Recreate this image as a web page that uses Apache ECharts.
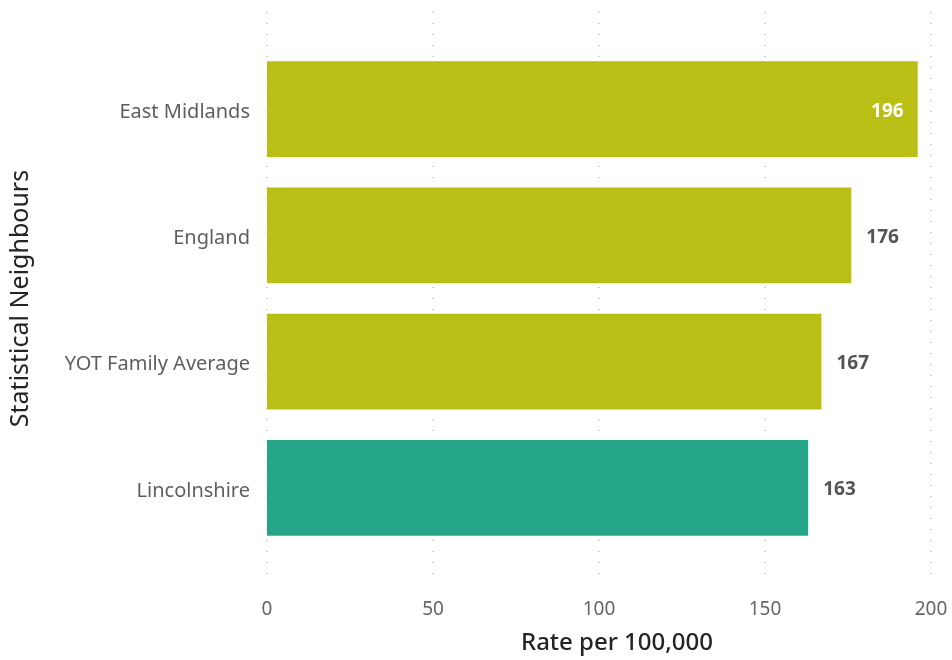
<!DOCTYPE html>
<html lang="en">
<head>
  <meta charset="UTF-8">
  <title>Statistical Neighbours - Rate per 100,000</title>
  <style>
    body { margin: 0; background: #fff; }
    #chart { width: 952px; height: 660px; }
  </style>
  <script src="https://cdn.jsdelivr.net/npm/echarts@6/dist/echarts.min.js"></script>
</head>
<body>
  <div id="chart"></div>
  <script>
    // data
    var categories = ['East Midlands', 'England', 'YOT Family Average', 'Lincolnshire'];
    var rates = [196, 176, 167, 163];
    var xTicks = [0, 50, 100, 150, 200];
    var highlight = 'Lincolnshire';

    var font = '"Noto Sans", "Open Sans", sans-serif';

    var barData = rates.map(function (v, i) {
      var item = { value: v };
      if (categories[i] === highlight) {
        item.itemStyle = { color: '#26A688' };
      }
      // the longest bar carries its label inside, as in the original
      if (v === Math.max.apply(null, rates)) {
        item.label = { position: 'insideRight', color: '#ffffff', distance: 14 };
      }
      return item;
    });

    var chart = echarts.init(document.getElementById('chart'));
    chart.setOption({
      animation: false,
      grid: [
        // bars
        { left: 267, right: 21, top: 46, height: 505 },
        // dotted grid lines and x axis
        { left: 267, right: 21, top: 12, bottom: 70 }
      ],
      xAxis: [
        {
          gridIndex: 0, type: 'value', min: xTicks[0], max: xTicks[xTicks.length - 1], interval: 50,
          axisLine: { show: false }, axisTick: { show: false }, axisLabel: { show: false },
          splitLine: { show: false }
        },
        {
          gridIndex: 1, type: 'value', min: xTicks[0], max: xTicks[xTicks.length - 1], interval: 50,
          axisLine: { show: false }, axisTick: { show: false },
          axisLabel: { color: '#666666', fontSize: 19, fontFamily: font, margin: 19 },
          splitLine: { show: true, lineStyle: { color: '#c0c0c0', type: [1, 10], width: 1.5 } },
          name: 'Rate per 100,000', nameLocation: 'middle', nameGap: 50,
          nameTextStyle: { color: '#252423', fontSize: 24, fontWeight: 500, fontFamily: font, padding: [0, 0, 0, 36] }
        }
      ],
      yAxis: [
        {
          gridIndex: 0, type: 'category', data: categories, inverse: true,
          axisLine: { show: false }, axisTick: { show: false },
          axisLabel: {
            margin: 17,
            formatter: function (v) { return '{c|' + v + '}'; },
            rich: { c: { color: '#605E5C', fontSize: 20, fontFamily: font, padding: [6, 0, 0, 0] } }
          },
          name: 'Statistical Neighbours', nameLocation: 'middle', nameGap: 234,
          nameTextStyle: { color: '#252423', fontSize: 25, fontFamily: font }
        },
        {
          gridIndex: 1, type: 'value', show: false
        }
      ],
      series: [
        {
          type: 'bar', xAxisIndex: 0, yAxisIndex: 0,
          data: barData,
          barCategoryGap: '24%',
          itemStyle: { color: '#B9BF15' },
          label: {
            show: true, position: 'right', distance: 15, offset: [0, 2],
            color: '#555555', fontSize: 19, fontWeight: 'bold', fontFamily: font
          }
        }
      ]
    });
  </script>
</body>
</html>
